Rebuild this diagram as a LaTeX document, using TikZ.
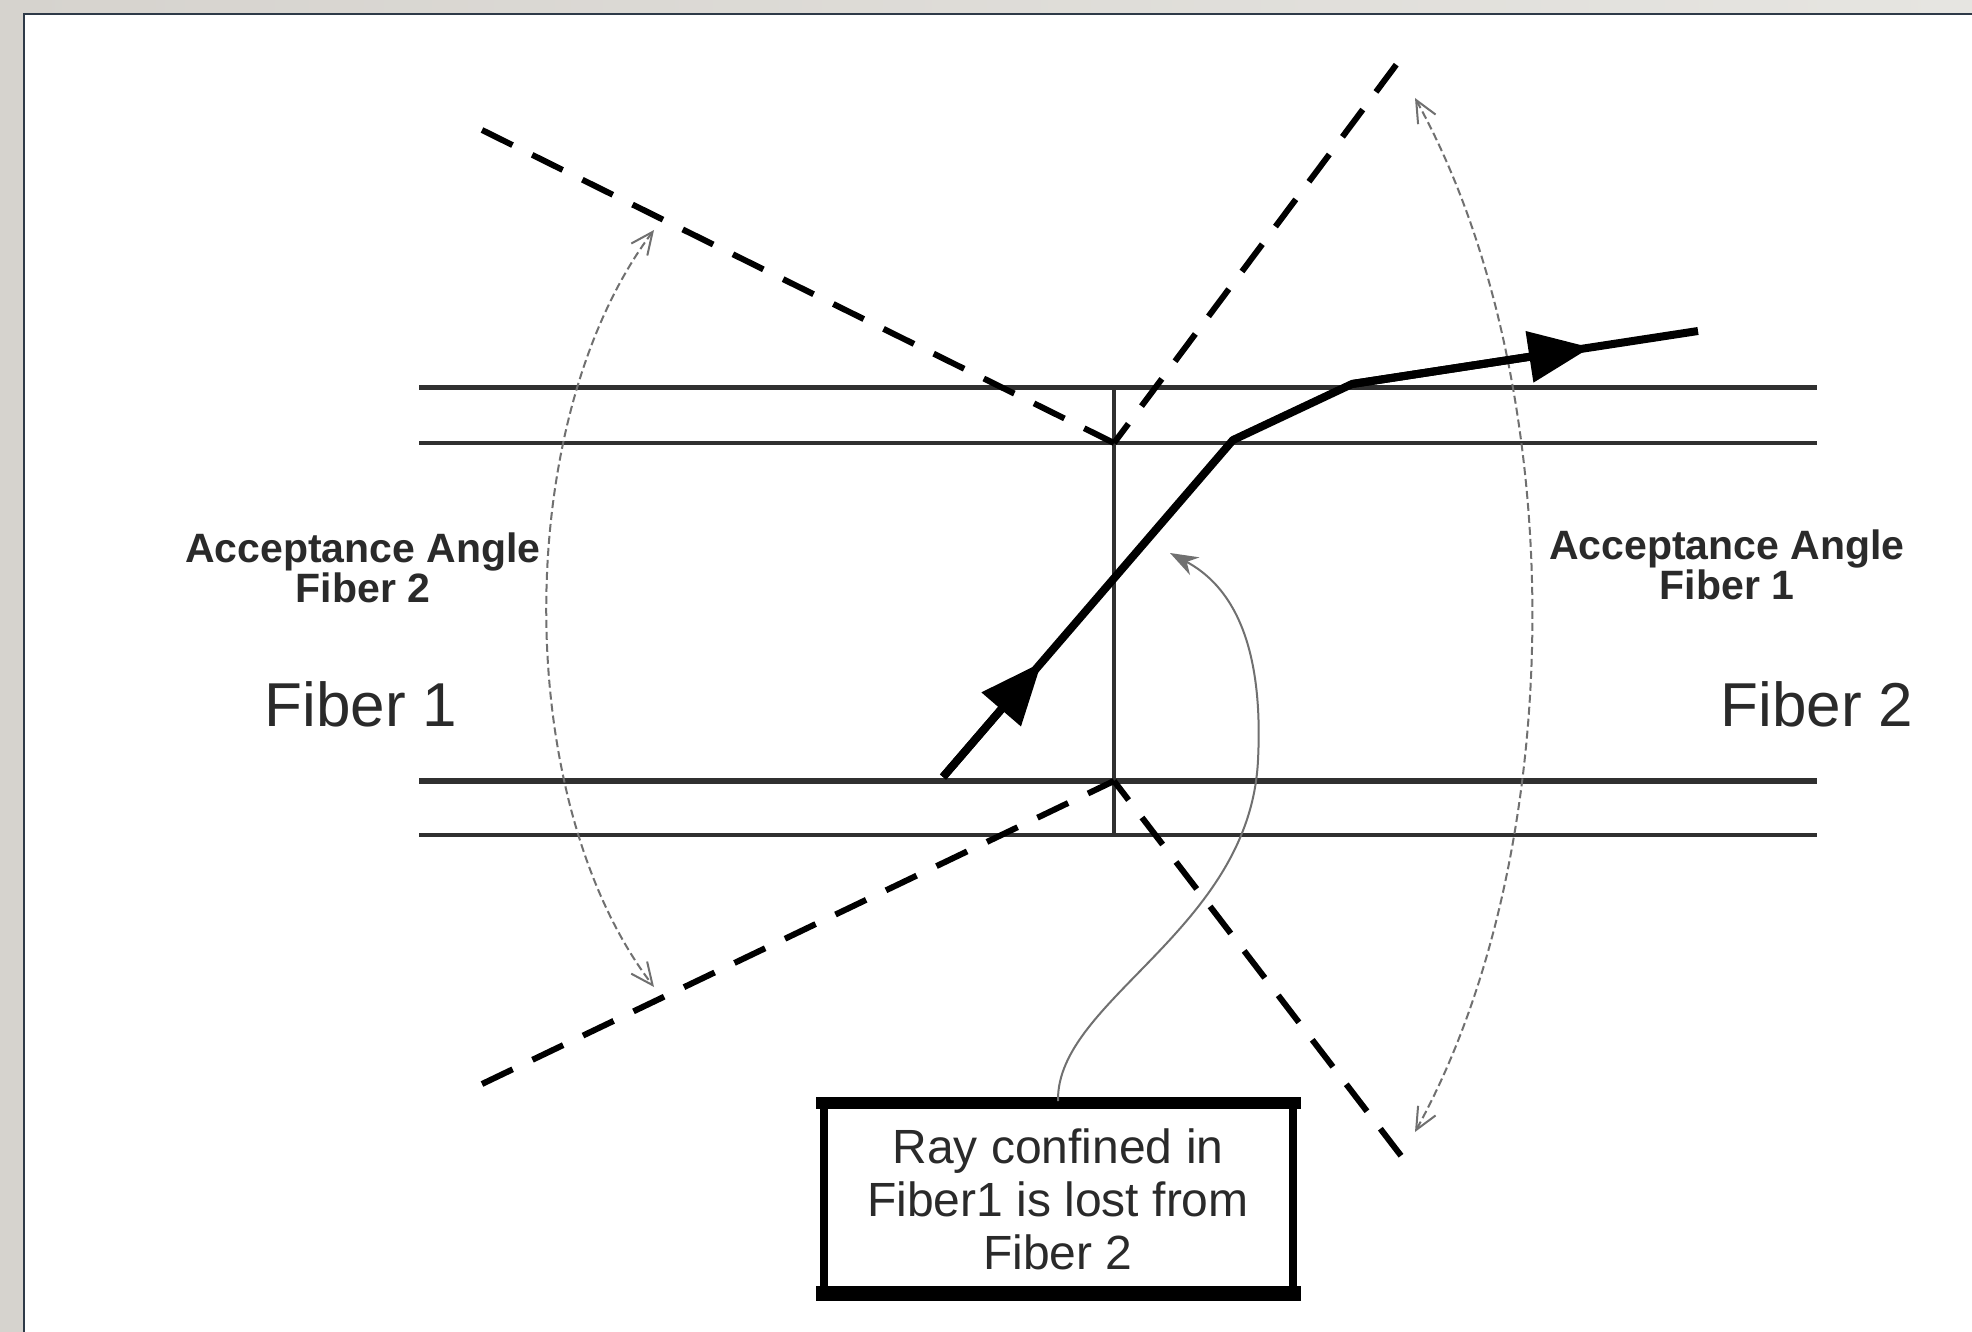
\documentclass[tikz,border=0pt]{standalone}
\usepackage{fontspec}
\setmainfont{Liberation Sans}
\usetikzlibrary{arrows.meta,calc}
\definecolor{bgleft}{HTML}{D6D3CE}
\definecolor{bgright}{HTML}{E6E5E1}
\definecolor{framecol}{HTML}{2E3A48}
\definecolor{linecol}{HTML}{303030}
\definecolor{textcol}{HTML}{2A2A2A}
\definecolor{arccol}{HTML}{707070}
\begin{document}
\begin{tikzpicture}[x=1pt,y=-1pt,
  fiber/.style={draw=linecol,line width=4.5pt},
  dashline/.style={draw=black,line width=6pt,dash pattern=on 34pt off 22pt},
  ray/.style={draw=black,line width=8pt,line join=round},
  arcline/.style={draw=arccol,line width=2pt,dash pattern=on 8pt off 4pt,
    {Straight Barb[length=22pt,width=20pt]}-{Straight Barb[length=22pt,width=20pt]}},
  conn/.style={draw=arccol,line width=2pt,-{Stealth[length=28pt,width=20pt]}},
  biglabel/.style={font=\fontsize{62}{70}\selectfont,text=textcol},
  anglelabel/.style={font=\bfseries\fontsize{41}{37}\selectfont,text=textcol,align=center},
  boxnode/.style={draw=black,line width=8pt,minimum width=469pt,minimum height=188pt,
    align=center,font=\fontsize{48}{53}\selectfont,text=textcol,fill=white}]
\useasboundingbox (0,0) rectangle (1972,1332);
% background and frame
\shade[left color=bgleft,right color=bgright] (0,0) rectangle (1972,1332);
\fill[white] (23,13) rectangle (1972,1332);
\draw[framecol,line width=2.5pt] (24.2,1332) -- (24.2,14.2) -- (1972,14.2);

% fiber edges
\coordinate (a1) at (419,387);  \coordinate (b1) at (1817,387);
\coordinate (a2) at (419,443);  \coordinate (b2) at (1817,443);
\coordinate (a3) at (419,781);  \coordinate (b3) at (1817,781);
\coordinate (a4) at (419,835);  \coordinate (b4) at (1817,835);
\draw[fiber,line width=5pt] (a1) -- (b1);
\draw[fiber] (a2) -- (b2);
\draw[fiber,line width=6pt] (a3) -- (b3);
\draw[fiber] (a4) -- (b4);
% junction
\coordinate (jt) at (1114,387);
\coordinate (j1) at (1114,443);
\coordinate (j2) at (1114,781);
\coordinate (jb) at (1114,835);
\draw[fiber] (jt) -- (jb);

% acceptance cone lines
\coordinate (dA) at (482,130);
\coordinate (dB) at (482,1084);
\coordinate (dC) at (1402,57);
\coordinate (dD) at (1402,1157);
\draw[dashline] (dA) -- (j1);
\draw[dashline] (dB) -- (j2);
\draw[dashline,dash phase=10pt] (j1) -- (dC);
\draw[dashline,dash phase=10pt] (j2) -- (dD);

% acceptance angle arcs
\coordinate (lt) at (654,230);
\coordinate (lb) at (654,987);
\coordinate (rt) at (1415,98);
\coordinate (rb) at (1415,1132);
\draw[arcline] (lt) .. controls (511,420) and (511,800) .. (lb);
\draw[arcline] (rt) .. controls (1571,380) and (1571,850) .. (rb);

% ray
\coordinate (r0) at (943,777);
\coordinate (r1) at (1233,440);
\coordinate (r2) at (1352,384);
\coordinate (r3) at (1698,331);
\draw[ray] (r0) -- (r1) -- (r2) -- (r3);
\draw[ray,-{Triangle[length=62pt,width=50pt]}] (r0) -- ($(r0)!0.34!(r1)$);
\draw[ray,-{Triangle[length=62pt,width=50pt]}] (r2) -- ($(r2)!0.69!(r3)$);

% labels
\node[biglabel] (f1) at (361,704) {Fiber 1};
\node[biglabel] (f2) at (1817,704) {Fiber 2};
\node[anglelabel] (aa2) at (363,568) {Acceptance Angle\\Fiber 2};
\node[anglelabel] (aa1) at (1727,565) {Acceptance Angle\\Fiber 1};

% note box
\node[boxnode] (box) at (1058,1199) {Ray confined in\\Fiber1 is lost from\\Fiber 2};
\fill[black] ([xshift=-4pt,yshift=4pt]box.north west) rectangle ([xshift=4pt,yshift=-8pt]box.north east);
\fill[black] ([xshift=-4pt,yshift=-4pt]box.south west) rectangle ([xshift=4pt,yshift=11pt]box.south east);
\coordinate (tip) at (1170,553);
\draw[conn] (box.north) .. controls (1056,1000) and (1250,930) .. (1258,760)
  .. controls (1264,640) and (1230,585) .. (tip);
\end{tikzpicture}
\end{document}
